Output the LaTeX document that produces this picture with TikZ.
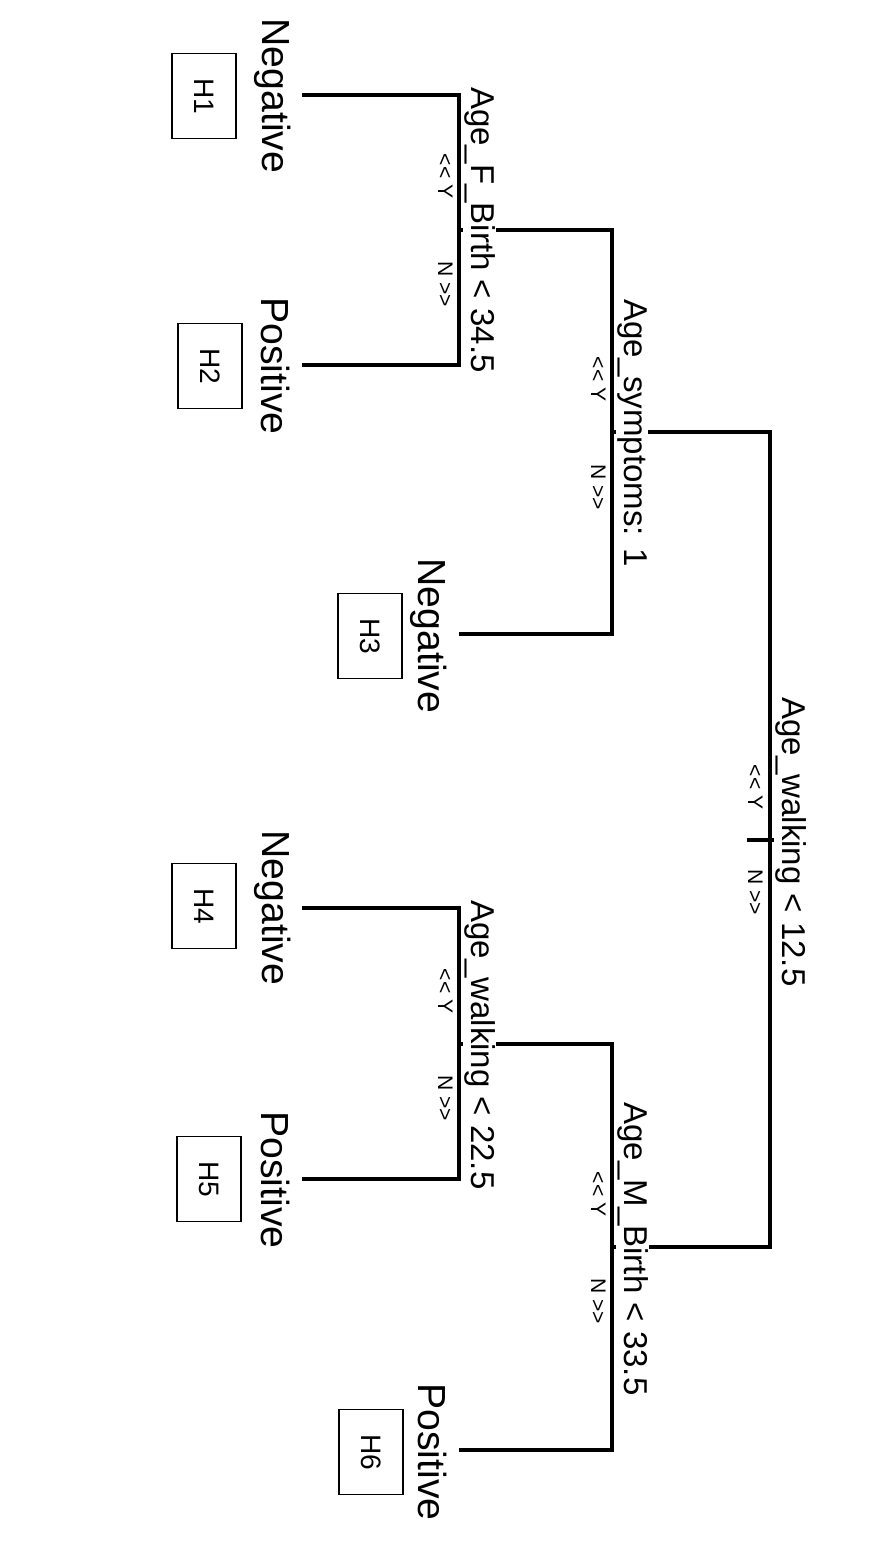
\documentclass[tikz,border=0pt]{standalone}
\usepackage{fontspec}
\setmainfont{Liberation Sans}
\usetikzlibrary{positioning}

\begin{document}
\begin{tikzpicture}[
  x=0.02cm, y=-0.02cm,
  every node/.style={inner sep=1pt},
  branch/.style={line width=2pt},
  split/.style={rotate=-90, anchor=base, fill=white, inner sep=0.6pt,
                font=\fontsize{18.8}{20}\selectfont},
  side/.style={rotate=-90, anchor=base, font=\fontsize{12}{13}\selectfont},
  leaf/.style={rotate=-90, anchor=base, font=\fontsize{22.3}{24}\selectfont},
  hbox/.style={rotate=-90, draw, line width=0.6pt,
               minimum width=1.7cm, minimum height=1.28cm,
               font=\fontsize{16}{17}\selectfont}
]
\useasboundingbox (0,0) rectangle (892,1567);

% Leaf ends
\coordinate (l1) at (302,95);
\coordinate (l2) at (302,365);
\coordinate (l3) at (459,634);
\coordinate (l4) at (302,908);
\coordinate (l5) at (302,1179);
\coordinate (l6) at (459,1450);

% Splits
\coordinate (s1)   at (459,230);
\coordinate (s2)   at (612,432);
\coordinate (root) at (770,840);
\coordinate (s4)   at (459,1044);
\coordinate (s5)   at (612,1247);
\coordinate (stub) at (747,840);

% Branches
\draw[branch] (l1) -| (s1) |- (l2);
\draw[branch] (s1) -| (s2) |- (l3);
\draw[branch] (l4) -| (s4) |- (l5);
\draw[branch] (s4) -| (s5) |- (l6);
\draw[branch] (s2) -| (root) |- (s5);
\draw[branch] (stub) -- (root) -- ++(20,0);

% Split labels
\node[split] (t1)   at (471,230)  {Age\_F\_Birth < 34.5};
\node[split] (t2)   at (624,433)  {Age\_symptoms: 1};
\node[split] (troot) at (782,842) {Age\_walking < 12.5};
\node[split] (t4)   at (471,1045) {Age\_walking < 22.5};
\node[split] (t5)   at (624,1249) {Age\_M\_Birth < 33.5};

\node[side] (y1) at (438,176)  {<{}< Y};
\node[side] (n1) at (438,284)  {N >{}>};
\node[side] (y2) at (591,379)  {<{}< Y};
\node[side] (n2) at (591,487)  {N >{}>};
\node[side] (yr) at (748,787)  {<{}< Y};
\node[side] (nr) at (748,892)  {N >{}>};
\node[side] (y4) at (438,991)  {<{}< Y};
\node[side] (n4) at (438,1098) {N >{}>};
\node[side] (y5) at (591,1194) {<{}< Y};
\node[side] (n5) at (591,1301) {N >{}>};

% Leaves
\node[leaf] (neg1) at (262,96)   {Negative};
\node[leaf] (pos2) at (261,366)  {Positive};
\node[leaf] (neg3) at (418,636)  {Negative};
\node[leaf] (neg4) at (262,908)  {Negative};
\node[leaf] (pos5) at (261,1180) {Positive};
\node[leaf] (pos6) at (418,1452) {Positive};

\node[hbox] (h1) at (204,96)   {H1};
\node[hbox] (h2) at (210,366)  {H2};
\node[hbox] (h3) at (370,636)  {H3};
\node[hbox] (h4) at (204,906)  {H4};
\node[hbox] (h5) at (209,1179) {H5};
\node[hbox] (h6) at (371,1452) {H6};

\end{tikzpicture}
\end{document}
